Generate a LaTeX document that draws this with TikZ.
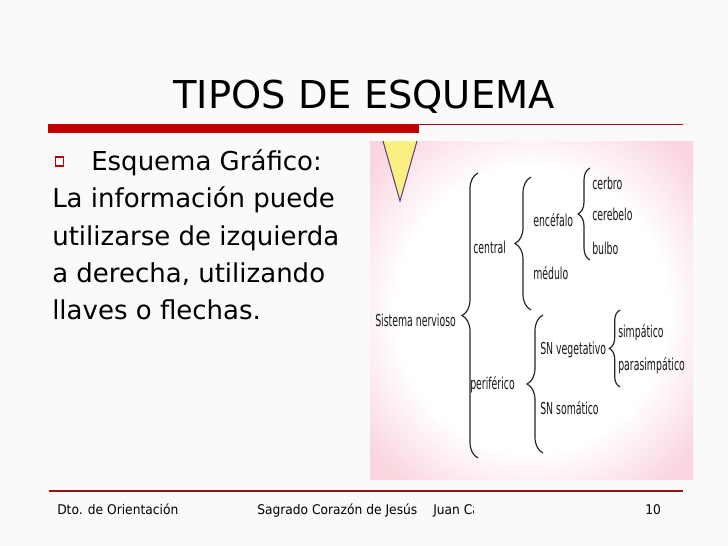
\documentclass[tikz,border=0pt]{standalone}
\usepackage{fontspec}
\setmainfont{DejaVu Sans}
\newfontfamily\piefont{DejaVu Sans}[FakeStretch=0.92]
\newfontfamily\llavefont{DejaVu Sans}[FakeStretch=0.57]
\usetikzlibrary{decorations.pathreplacing}

\definecolor{rojo}{RGB}{192,0,0}
\definecolor{rojoosc}{RGB}{150,20,20}
\definecolor{fondo}{RGB}{250,250,250}
\definecolor{rosa}{RGB}{250,212,222}
\definecolor{amarillo}{RGB}{250,240,130}
\definecolor{morado}{RGB}{95,65,140}
\pgfdeclareradialshading{fotofondo}{\pgfpoint{0bp}{0bp}}{color(0bp)=(white); color(21bp)=(white); color(33bp)=(rosa); color(50bp)=(rosa)}

\tikzset{
	texto/.style={anchor=west, inner sep=0pt, font=\fontsize{19.5}{22}\selectfont},
	pie/.style={anchor=base west, inner sep=0pt, font=\piefont\fontsize{10}{12}\selectfont},
	rama/.style={anchor=west, inner sep=0pt, text=black!90, font=\llavefont\fontsize{12.3}{14}\selectfont},
	llave/.style={draw=black!85, line width=0.9pt, decorate, decoration={brace, amplitude=#1}}
}

\begin{document}
\begin{tikzpicture}[x=0.75pt, y=-0.75pt]
	\fill[fondo] (0,0) rectangle (728,546);
	\useasboundingbox (0,0) rectangle (728,546);
	% titulo
	\node (titulo) at (364,97) {\fontsize{28.8}{32}\selectfont TIPOS DE ESQUEMA};
	\fill[rojo] (48,124) rectangle (419,133);
	\draw[rojoosc, line width=0.8pt] (419,124.5) -- (683,124.5);
	% texto de la izquierda
	\draw[rojo, line width=0.9pt] (55.5,157) rectangle (63.5,166);
	\node[texto] (tipo) at (91,163) {Esquema Gráfico:};
	\node[texto] (linea1) at (52,200) {La información puede};
	\node[texto] (linea2) at (52,238) {utilizarse de izquierda};
	\node[texto] (linea3) at (52,274) {a derecha, utilizando};
	\node[texto] (linea4) at (52,310) {llaves o flechas.};
	% imagen
	\shade[shading=fotofondo] (370,141) rectangle (693,479);
	\filldraw[fill=amarillo, draw=morado, line width=0.8pt] (383,141) -- (400,201) -- (417,141);
	\node[rama] (sistema) at (375,320) {Sistema nervioso};
	\node[rama] (central) at (473,247) {central};
	\node[rama] (encefalo) at (533,220) {encéfalo};
	\node[rama] (medulo) at (533,273) {médulo};
	\node[rama] (cerbro) at (592,183) {cerbro};
	\node[rama] (cerebelo) at (592,214) {cerebelo};
	\node[rama] (bulbo) at (592,248) {bulbo};
	\node[rama] (periferico) at (470,385) {periférico};
	\node[rama] (vegetativo) at (540,350) {SN vegetativo};
	\node[rama] (somatico) at (540,408) {SN somático};
	\node[rama] (simpatico) at (618,333) {simpático};
	\node[rama] (parasimpatico) at (618,366) {parasimpático};
	\coordinate (sisA) at (478,458);
	\coordinate (sisB) at (478,173);
	\coordinate (cenA) at (531,310);
	\coordinate (cenB) at (531,177);
	\coordinate (encA) at (590,260);
	\coordinate (encB) at (590,168);
	\coordinate (perA) at (543,453);
	\coordinate (perB) at (543,315);
	\coordinate (vegA) at (620,387);
	\coordinate (vegB) at (620,310);
	\draw[llave=12pt] (sisA) -- (sisB);
	\draw[llave=12pt] (cenA) -- (cenB);
	\draw[llave=9pt] (encA) -- (encB);
	\draw[llave=12pt] (perA) -- (perB);
	\draw[llave=8pt] (vegA) -- (vegB);
	% pie
	\draw[rojoosc, line width=0.8pt] (49,491) -- (683,491);
	\node[pie] (dto) at (57,514) {Dto. de Orientación};
	\node[pie] (colegio) at (257,514) {Sagrado Corazón de Jesús};
	\begin{scope}
		\clip (430,498) rectangle (473,522);
		\node[pie] (autor) at (433,514) {Juan Carlos};
	\end{scope}
	\node[pie] (pagina) at (645,514) {10};
\end{tikzpicture}
\end{document}
